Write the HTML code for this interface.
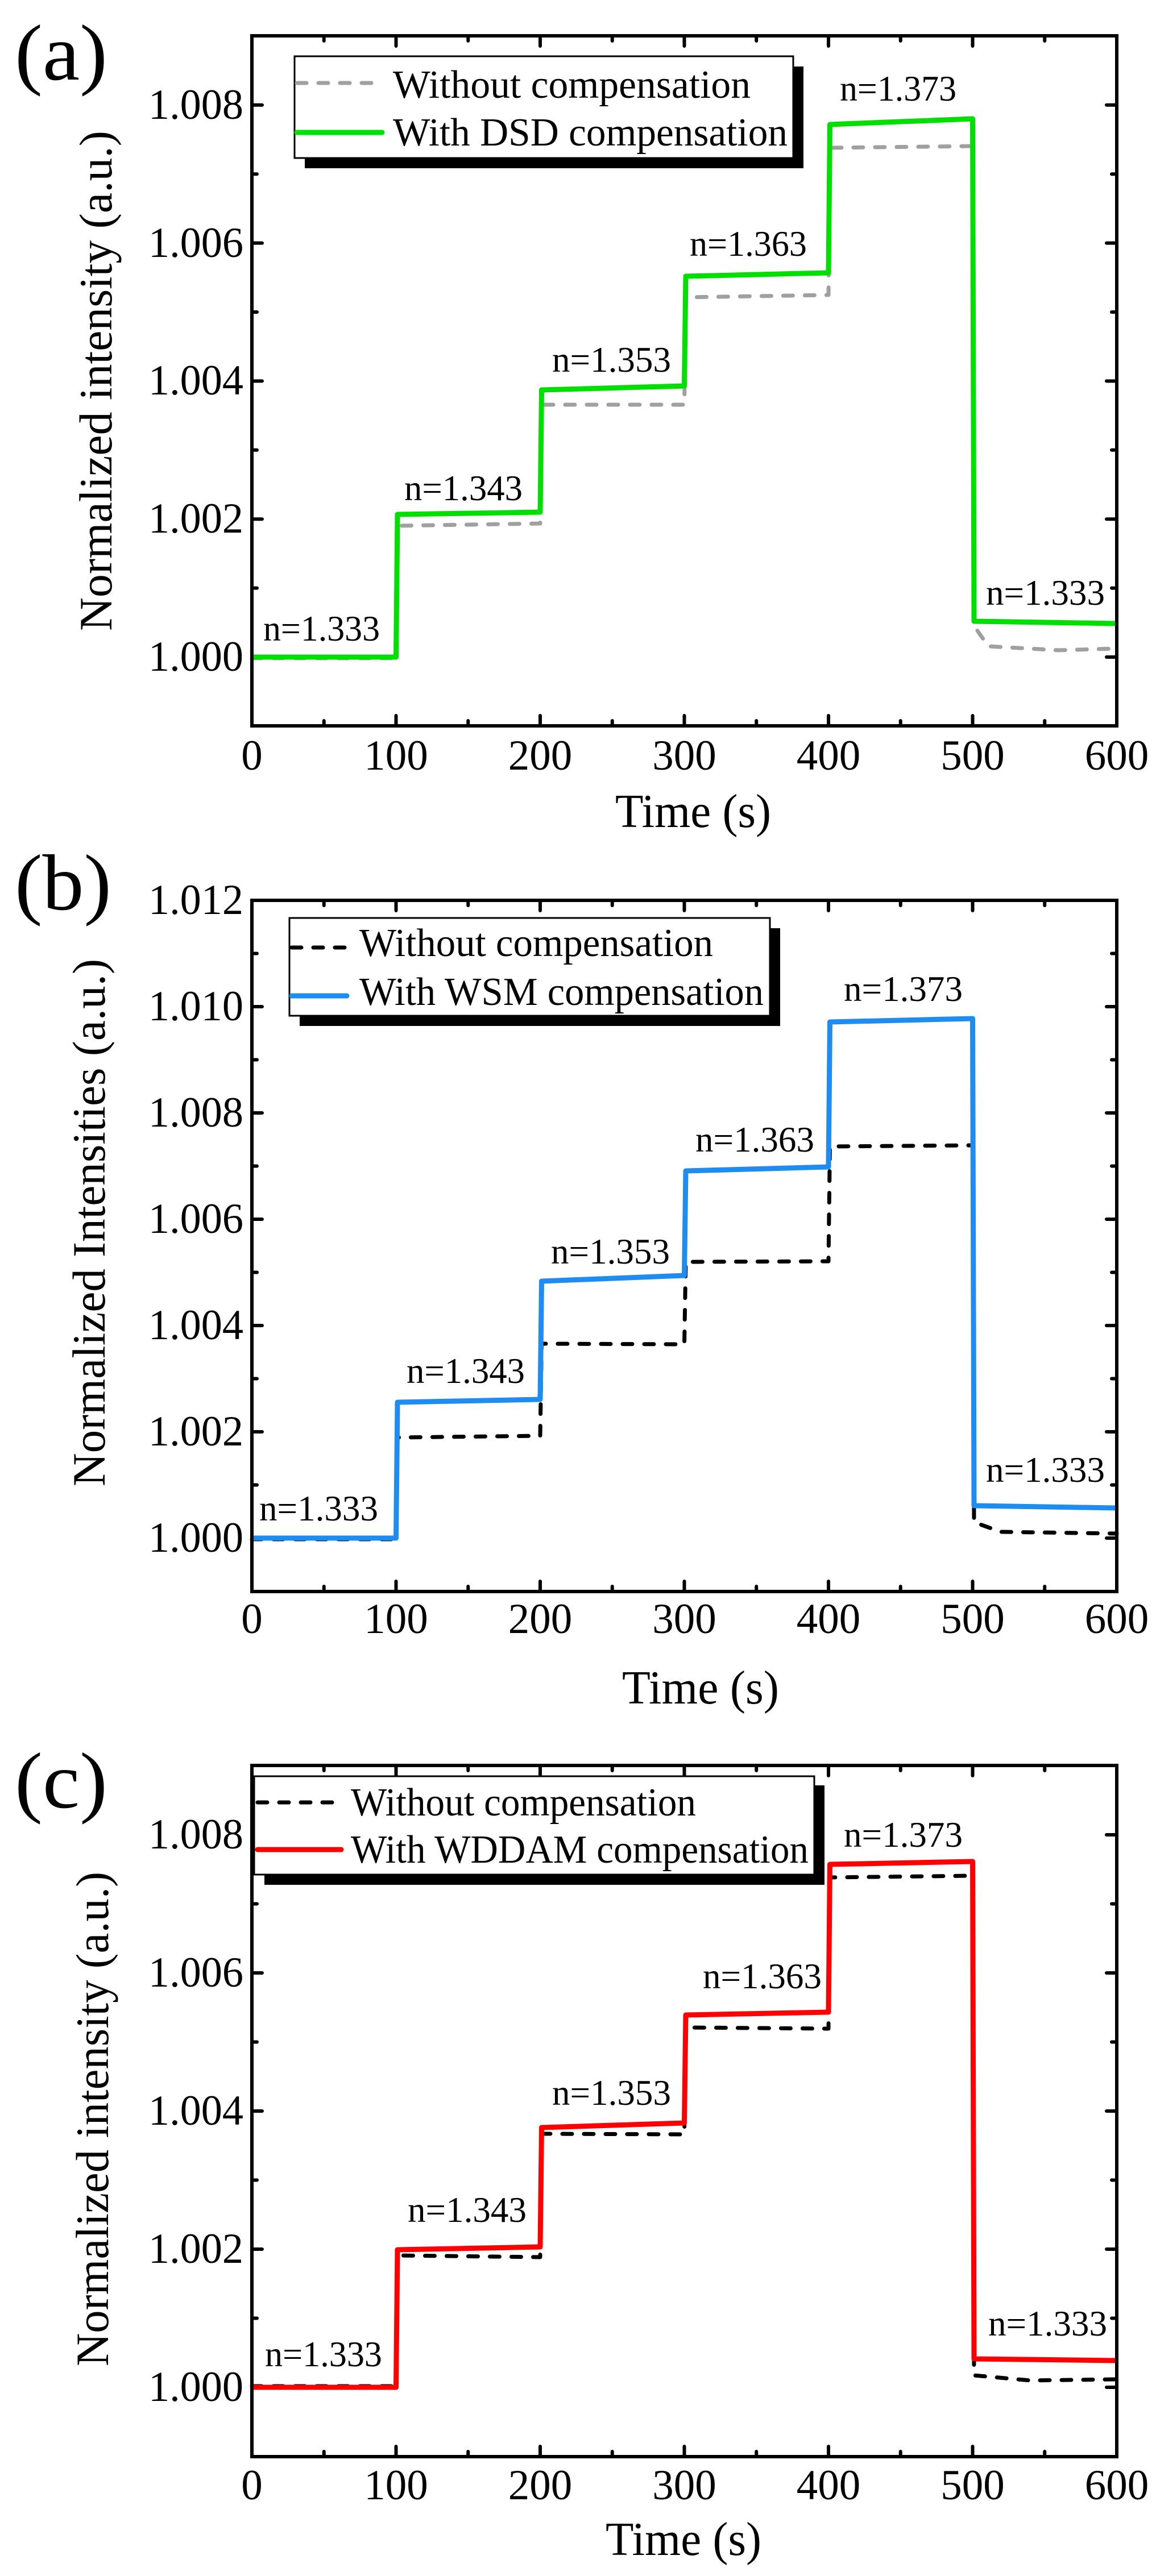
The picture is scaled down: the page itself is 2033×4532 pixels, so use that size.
<!DOCTYPE html>
<html><head><meta charset="utf-8"><style>html,body{margin:0;padding:0;background:#fff}svg{display:block}svg,svg text{font-family:"Liberation Serif","Times New Roman",Times,serif}</style></head>
<body>
<svg xmlns="http://www.w3.org/2000/svg" width="2033" height="4532" viewBox="0 0 2033 4532" style="font-family:'Liberation Serif','Times New Roman',Times,serif" fill="#000">
<rect width="2033" height="4532" fill="#fff"/>

<!-- ================= PANEL A ================= -->
<text x="26" y="140" font-size="140" textLength="163" lengthAdjust="spacingAndGlyphs">(a)</text>
<g stroke="#000" stroke-width="6" stroke-linecap="round" fill="none">
<path d="M443,1156h18M443,913.2h18M443,670.4h18M443,427.6h18M443,184.8h18M443,1034.6h9M443,791.8h9M443,549h9M443,306.2h9
M1964,1156h-18M1964,913.2h-18M1964,670.4h-18M1964,427.6h-18M1964,184.8h-18M1964,1034.6h-9M1964,791.8h-9M1964,549h-9M1964,306.2h-9
M696.5,1277v-18M950,1277v-18M1203.5,1277v-18M1457,1277v-18M1710.5,1277v-18M569.75,1277v-9M823.25,1277v-9M1076.75,1277v-9M1330.25,1277v-9M1583.75,1277v-9M1837.25,1277v-9
M696.5,63v18M950,63v18M1203.5,63v18M1457,63v18M1710.5,63v18M569.75,63v9M823.25,63v9M1076.75,63v9M1330.25,63v9M1583.75,63v9M1837.25,63v9"/>
</g>
<g font-size="75" text-anchor="end">
<text x="428" y="1180" textLength="167" lengthAdjust="spacingAndGlyphs">1.000</text>
<text x="428" y="937" textLength="167" lengthAdjust="spacingAndGlyphs">1.002</text>
<text x="428" y="694" textLength="167" lengthAdjust="spacingAndGlyphs">1.004</text>
<text x="428" y="452" textLength="167" lengthAdjust="spacingAndGlyphs">1.006</text>
<text x="428" y="209" textLength="167" lengthAdjust="spacingAndGlyphs">1.008</text>
</g>
<g font-size="75" text-anchor="middle">
<text x="443" y="1354">0</text><text x="696.5" y="1354">100</text><text x="950" y="1354">200</text><text x="1203.5" y="1354">300</text><text x="1457" y="1354">400</text><text x="1710.5" y="1354">500</text><text x="1964" y="1354">600</text>
</g>
<text x="1082" y="1455" font-size="84" textLength="274" lengthAdjust="spacingAndGlyphs">Time (s)</text>
<text transform="translate(196,1110) rotate(-90)" font-size="82" textLength="880" lengthAdjust="spacingAndGlyphs">Normalized intensity (a.u.)</text>
<g font-size="64">
<text x="463" y="1127" textLength="205" lengthAdjust="spacingAndGlyphs">n=1.333</text>
<text x="711" y="880" textLength="208" lengthAdjust="spacingAndGlyphs">n=1.343</text>
<text x="971" y="654" textLength="209" lengthAdjust="spacingAndGlyphs">n=1.353</text>
<text x="1213" y="450" textLength="206" lengthAdjust="spacingAndGlyphs">n=1.363</text>
<text x="1477" y="177" textLength="205" lengthAdjust="spacingAndGlyphs">n=1.373</text>
<text x="1734" y="1064" textLength="209" lengthAdjust="spacingAndGlyphs">n=1.333</text>
</g>
<polyline fill="none" stroke="#a0a0a0" stroke-width="7" stroke-dasharray="17 21" stroke-linecap="round" stroke-linejoin="round"
points="443,1158 696.5,1158 699,925 950,921 952.5,712 1203.5,712 1206,523 1457,519 1459.5,260 1710.5,257 1713,1101 1738,1137 1862,1144 1964,1141"/>
<polyline fill="none" stroke="#00e000" stroke-width="9" stroke-linejoin="round"
points="443,1156 696.5,1156 699,905 950,901 952.5,686 1203.5,679 1206,486 1457,480 1459.5,219 1710.5,209 1713,1093 1964,1097"/>
<rect x="536" y="117" width="877" height="179" fill="#000"/>
<rect x="518" y="99" width="877" height="179" fill="#fff" stroke="#000" stroke-width="3"/>
<line x1="522" y1="146" x2="672" y2="146" stroke="#a0a0a0" stroke-width="7" stroke-dasharray="17 21" stroke-linecap="round"/>
<line x1="522" y1="233" x2="672" y2="233" stroke="#00e000" stroke-width="9" stroke-linecap="round"/>
<g font-size="70">
<text x="691" y="172" textLength="629" lengthAdjust="spacingAndGlyphs">Without compensation</text>
<text x="691" y="256" textLength="694" lengthAdjust="spacingAndGlyphs">With DSD compensation</text>
</g>
<rect x="443" y="63" width="1521" height="1214" fill="none" stroke="#000" stroke-width="6"/>

<!-- ================= PANEL B ================= -->
<text x="26" y="1600" font-size="140" textLength="170" lengthAdjust="spacingAndGlyphs">(b)</text>
<g stroke="#000" stroke-width="6" stroke-linecap="round" fill="none">
<path d="M443,2706h18M443,2519h18M443,2332h18M443,2145h18M443,1958h18M443,1771h18M443,2612.5h9M443,2425.5h9M443,2238.5h9M443,2051.5h9M443,1864.5h9M443,1677.5h9
M1964,2706h-18M1964,2519h-18M1964,2332h-18M1964,2145h-18M1964,1958h-18M1964,1771h-18M1964,2612.5h-9M1964,2425.5h-9M1964,2238.5h-9M1964,2051.5h-9M1964,1864.5h-9M1964,1677.5h-9
M696.5,2800v-18M950,2800v-18M1203.5,2800v-18M1457,2800v-18M1710.5,2800v-18M569.75,2800v-9M823.25,2800v-9M1076.75,2800v-9M1330.25,2800v-9M1583.75,2800v-9M1837.25,2800v-9
M696.5,1584v18M950,1584v18M1203.5,1584v18M1457,1584v18M1710.5,1584v18M569.75,1584v9M823.25,1584v9M1076.75,1584v9M1330.25,1584v9M1583.75,1584v9M1837.25,1584v9"/>
</g>
<g font-size="75" text-anchor="end">
<text x="428" y="2730" textLength="167" lengthAdjust="spacingAndGlyphs">1.000</text>
<text x="428" y="2543" textLength="167" lengthAdjust="spacingAndGlyphs">1.002</text>
<text x="428" y="2356" textLength="167" lengthAdjust="spacingAndGlyphs">1.004</text>
<text x="428" y="2169" textLength="167" lengthAdjust="spacingAndGlyphs">1.006</text>
<text x="428" y="1982" textLength="167" lengthAdjust="spacingAndGlyphs">1.008</text>
<text x="428" y="1795" textLength="167" lengthAdjust="spacingAndGlyphs">1.010</text>
<text x="428" y="1608" textLength="167" lengthAdjust="spacingAndGlyphs">1.012</text>
</g>
<g font-size="75" text-anchor="middle">
<text x="443" y="2873">0</text><text x="696.5" y="2873">100</text><text x="950" y="2873">200</text><text x="1203.5" y="2873">300</text><text x="1457" y="2873">400</text><text x="1710.5" y="2873">500</text><text x="1964" y="2873">600</text>
</g>
<text x="1094" y="2997" font-size="84" textLength="276" lengthAdjust="spacingAndGlyphs">Time (s)</text>
<text transform="translate(184,2615) rotate(-90)" font-size="82" textLength="928" lengthAdjust="spacingAndGlyphs">Normalized Intensities (a.u.)</text>
<g font-size="64">
<text x="456" y="2675" textLength="209" lengthAdjust="spacingAndGlyphs">n=1.333</text>
<text x="715" y="2433" textLength="208" lengthAdjust="spacingAndGlyphs">n=1.343</text>
<text x="969" y="2223" textLength="209" lengthAdjust="spacingAndGlyphs">n=1.353</text>
<text x="1223" y="2026" textLength="209" lengthAdjust="spacingAndGlyphs">n=1.363</text>
<text x="1484" y="1761" textLength="209" lengthAdjust="spacingAndGlyphs">n=1.373</text>
<text x="1734" y="2607" textLength="209" lengthAdjust="spacingAndGlyphs">n=1.333</text>
</g>
<polyline fill="none" stroke="#000" stroke-width="7" stroke-dasharray="17 21" stroke-linecap="round" stroke-linejoin="round"
points="443,2708 696.5,2708 699,2529 950,2526 952.5,2364 1203.5,2365 1206,2220 1457,2219 1459.5,2017 1710.5,2015 1713,2678 1760,2695 1964,2698"/>
<polyline fill="none" stroke="#1e8cf0" stroke-width="9" stroke-linejoin="round"
points="443,2706 696.5,2706 699,2467 950,2462 952.5,2254 1203.5,2244 1206,2060 1457,2053 1459.5,1798 1710.5,1792 1713,2649 1964,2653"/>
<rect x="527" y="1633" width="845" height="172" fill="#000"/>
<rect x="509" y="1615" width="845" height="172" fill="#fff" stroke="#000" stroke-width="3"/>
<line x1="513" y1="1667" x2="610" y2="1667" stroke="#000" stroke-width="7" stroke-dasharray="17 21" stroke-linecap="round"/>
<line x1="513" y1="1752" x2="610" y2="1752" stroke="#1e8cf0" stroke-width="9" stroke-linecap="round"/>
<g font-size="70">
<text x="632" y="1682" textLength="622" lengthAdjust="spacingAndGlyphs">Without compensation</text>
<text x="632" y="1768" textLength="711" lengthAdjust="spacingAndGlyphs">With WSM compensation</text>
</g>
<rect x="443" y="1584" width="1521" height="1216" fill="none" stroke="#000" stroke-width="6"/>

<!-- ================= PANEL C ================= -->
<text x="26" y="3180" font-size="140" textLength="163" lengthAdjust="spacingAndGlyphs">(c)</text>
<g stroke="#000" stroke-width="6" stroke-linecap="round" fill="none">
<path d="M443,4200h18M443,3957h18M443,3714h18M443,3471h18M443,3228h18M443,4078.5h9M443,3835.5h9M443,3592.5h9M443,3349.5h9
M1964,4200h-18M1964,3957h-18M1964,3714h-18M1964,3471h-18M1964,3228h-18M1964,4078.5h-9M1964,3835.5h-9M1964,3592.5h-9M1964,3349.5h-9
M696.5,4322v-18M950,4322v-18M1203.5,4322v-18M1457,4322v-18M1710.5,4322v-18M569.75,4322v-9M823.25,4322v-9M1076.75,4322v-9M1330.25,4322v-9M1583.75,4322v-9M1837.25,4322v-9
M696.5,3106v18M950,3106v18M1203.5,3106v18M1457,3106v18M1710.5,3106v18M569.75,3106v9M823.25,3106v9M1076.75,3106v9M1330.25,3106v9M1583.75,3106v9M1837.25,3106v9"/>
</g>
<g font-size="75" text-anchor="end">
<text x="428" y="4224" textLength="167" lengthAdjust="spacingAndGlyphs">1.000</text>
<text x="428" y="3981" textLength="167" lengthAdjust="spacingAndGlyphs">1.002</text>
<text x="428" y="3738" textLength="167" lengthAdjust="spacingAndGlyphs">1.004</text>
<text x="428" y="3495" textLength="167" lengthAdjust="spacingAndGlyphs">1.006</text>
<text x="428" y="3252" textLength="167" lengthAdjust="spacingAndGlyphs">1.008</text>
</g>
<g font-size="75" text-anchor="middle">
<text x="443" y="4397">0</text><text x="696.5" y="4397">100</text><text x="950" y="4397">200</text><text x="1203.5" y="4397">300</text><text x="1457" y="4397">400</text><text x="1710.5" y="4397">500</text><text x="1964" y="4397">600</text>
</g>
<text x="1065" y="4495" font-size="84" textLength="274" lengthAdjust="spacingAndGlyphs">Time (s)</text>
<text transform="translate(190,4163) rotate(-90)" font-size="82" textLength="870" lengthAdjust="spacingAndGlyphs">Normalized intensity (a.u.)</text>
<g font-size="64">
<text x="466" y="4163" textLength="206" lengthAdjust="spacingAndGlyphs">n=1.333</text>
<text x="717" y="3909" textLength="209" lengthAdjust="spacingAndGlyphs">n=1.343</text>
<text x="971" y="3703" textLength="209" lengthAdjust="spacingAndGlyphs">n=1.353</text>
<text x="1236" y="3498" textLength="209" lengthAdjust="spacingAndGlyphs">n=1.363</text>
<text x="1484" y="3249" textLength="209" lengthAdjust="spacingAndGlyphs">n=1.373</text>
<text x="1738" y="4109" textLength="209" lengthAdjust="spacingAndGlyphs">n=1.333</text>
</g>
<polyline fill="none" stroke="#000" stroke-width="7" stroke-dasharray="17 21" stroke-linecap="round" stroke-linejoin="round"
points="443,4198 696.5,4198 699,3968 950,3971 952.5,3754 1203.5,3755 1206,3567 1457,3569 1459.5,3303 1710.5,3300 1713,4179 1812,4188 1964,4186"/>
<polyline fill="none" stroke="#ff0000" stroke-width="9" stroke-linejoin="round"
points="443,4200 696.5,4200 699,3958 950,3953 952.5,3743 1203.5,3735 1206,3545 1457,3540 1459.5,3280 1710.5,3275 1713,4150 1964,4153"/>
<rect x="465" y="3141" width="985" height="175" fill="#000"/>
<rect x="447" y="3125" width="985" height="173" fill="#fff" stroke="#000" stroke-width="3"/>
<line x1="453" y1="3171" x2="588" y2="3171" stroke="#000" stroke-width="7" stroke-dasharray="17 21" stroke-linecap="round"/>
<line x1="453" y1="3254" x2="600" y2="3254" stroke="#ff0000" stroke-width="9" stroke-linecap="round"/>
<g font-size="70">
<text x="617" y="3194" textLength="607" lengthAdjust="spacingAndGlyphs">Without compensation</text>
<text x="617" y="3277" textLength="805" lengthAdjust="spacingAndGlyphs">With WDDAM compensation</text>
</g>
<rect x="443" y="3106" width="1521" height="1216" fill="none" stroke="#000" stroke-width="6"/>
</svg>
</body></html>
